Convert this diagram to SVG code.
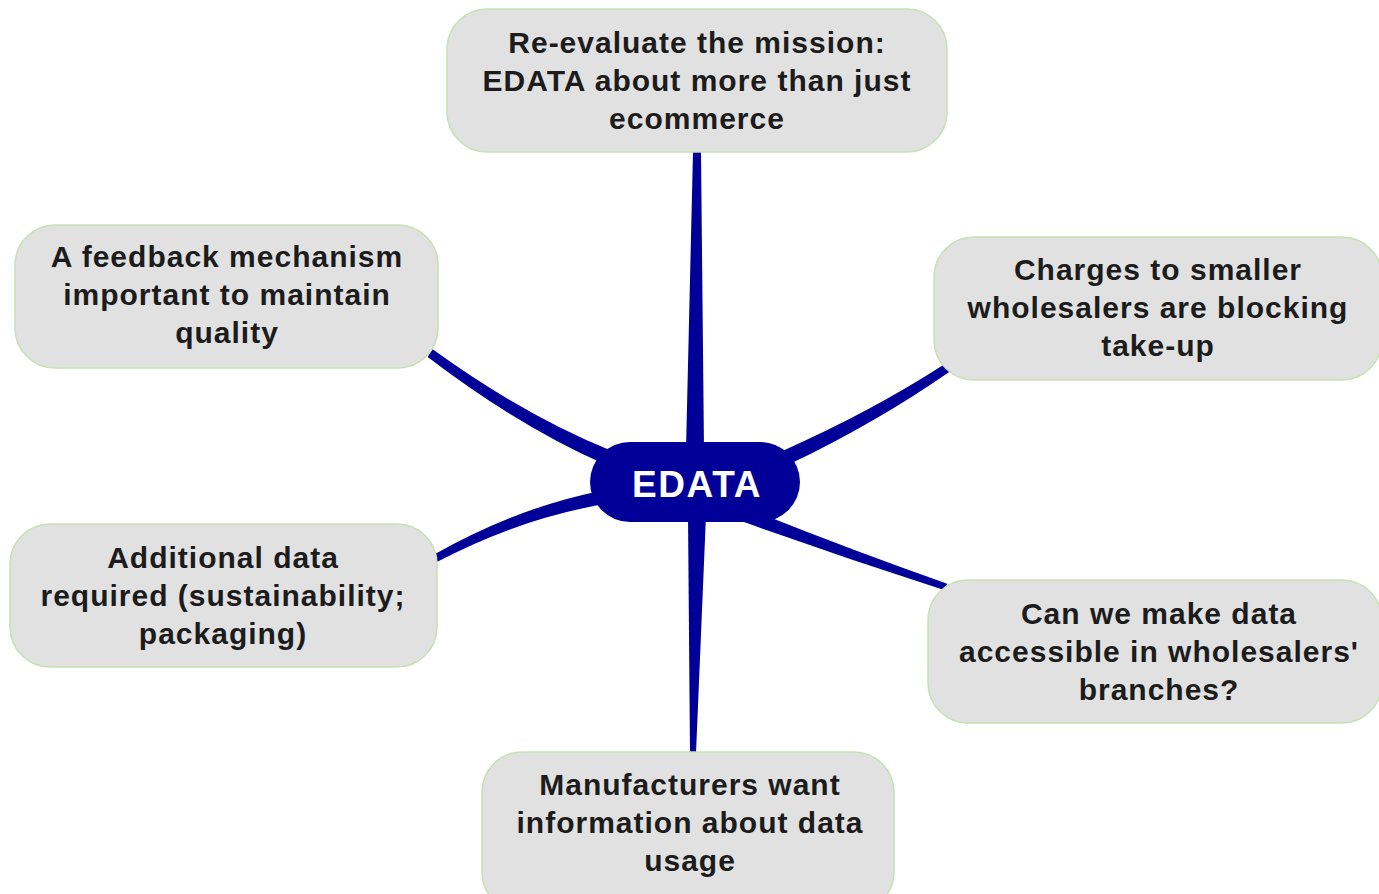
<svg xmlns="http://www.w3.org/2000/svg" width="1379" height="894" viewBox="0 0 1379 894">
  <style>
    .topic rect { fill: #e1e1e1; stroke: #c8e0b4; stroke-width: 1.5; }
    .topic text { font-family: "Liberation Sans", Arial, sans-serif; font-weight: bold; font-size: 30px; letter-spacing: 1px; fill: #1c1c1c; text-anchor: middle; }
    .branch { fill: #000099; }
    #center rect { fill: #000099; }
    #center text { font-family: "Liberation Sans", Arial, sans-serif; font-weight: bold; font-size: 37px; letter-spacing: 1.6px; fill: #ffffff; text-anchor: middle; }
  </style>
  <rect width="1379" height="894" fill="#ffffff"/>

  <!-- tapered branches from the central topic -->
  <g id="connectors">
    <path class="branch" d="M686,450 L704,450 L701,152 L693,152 Z"/>
    <path class="branch" d="M688,515 L706,515 L696,753 L690,753 Z"/>
    <path class="branch" d="M432.3,349.1 Q524.5,415.8 610.8,450.5 L603.2,463.5 Q518.5,426.2 427.7,356.9 Z"/>
    <path class="branch" d="M944.8,364.1 Q871.1,411.8 781.4,451.4 L788.6,464.6 Q876.9,422.2 949.2,371.9 Z"/>
    <path class="branch" d="M434.6,554.2 Q517.6,507.3 602.6,490.4 L607.4,503.6 Q521.4,517.7 437.4,561.8 Z"/>
    <path class="branch" d="M947.2,583.7 Q846.7,548.3 747.4,508.4 L742.6,521.6 Q843.3,557.7 944.8,590.3 Z"/>
  </g>

  <g id="center">
    <rect x="590" y="442" width="210" height="80" rx="40" ry="40"/>
    <text x="697" y="497">EDATA</text>
  </g>

  <g id="topic-mission" class="topic">
    <rect x="447" y="9" width="500" height="143" rx="40" ry="40"/>
    <text x="697" y="53">Re-evaluate the mission:</text>
    <text x="697" y="91">EDATA about more than just</text>
    <text x="697" y="129">ecommerce</text>
  </g>

  <g id="topic-charges" class="topic">
    <rect x="934" y="237" width="448" height="143" rx="40" ry="40"/>
    <text x="1158" y="280">Charges to smaller</text>
    <text x="1158" y="318">wholesalers are blocking</text>
    <text x="1158" y="356">take-up</text>
  </g>

  <g id="topic-feedback" class="topic">
    <rect x="15" y="225" width="423" height="143" rx="40" ry="40"/>
    <text x="227" y="267">A feedback mechanism</text>
    <text x="227" y="305">important to maintain</text>
    <text x="227" y="343">quality</text>
  </g>

  <g id="topic-additional" class="topic">
    <rect x="10" y="524" width="427" height="143" rx="40" ry="40"/>
    <text x="223" y="568">Additional data</text>
    <text x="223" y="606">required (sustainability;</text>
    <text x="223" y="644">packaging)</text>
  </g>

  <g id="topic-accessible" class="topic">
    <rect x="928" y="580" width="454" height="143" rx="40" ry="40"/>
    <text x="1159" y="624">Can we make data</text>
    <text x="1159" y="662">accessible in wholesalers'</text>
    <text x="1159" y="700">branches?</text>
  </g>

  <g id="topic-manufacturers" class="topic">
    <rect x="482" y="752" width="412" height="160" rx="40" ry="40"/>
    <text x="690" y="795">Manufacturers want</text>
    <text x="690" y="833">information about data</text>
    <text x="690" y="871">usage</text>
  </g>
</svg>
